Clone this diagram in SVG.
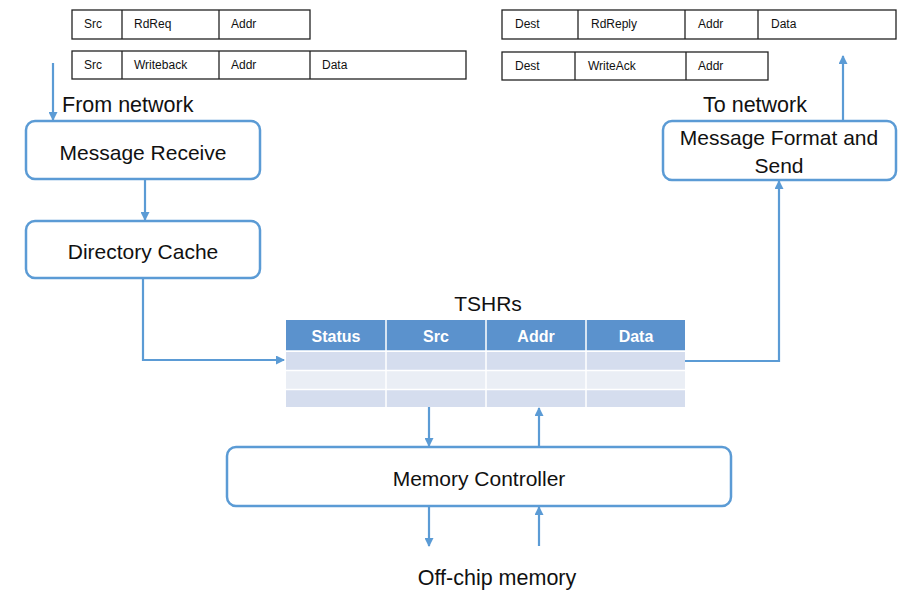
<svg xmlns="http://www.w3.org/2000/svg" width="915" height="607" viewBox="0 0 915 607">
<style>
.pk{fill:#fff;stroke:#222;stroke-width:1.3}
.pl{stroke:#222;stroke-width:1.3}
.pt{font-family:"Liberation Sans",Arial,sans-serif;font-size:12px;fill:#111}
.box{fill:#fff;stroke:#5B9BD5;stroke-width:2.5}
.bt{font-family:"Liberation Sans",Arial,sans-serif;font-size:21px;fill:#111;text-anchor:middle}
.lb{font-family:"Liberation Sans",Arial,sans-serif;font-size:21.5px;fill:#111}
.ht{font-family:"Liberation Sans",Arial,sans-serif;font-size:16px;font-weight:bold;fill:#fff;text-anchor:middle}
.cn{fill:none;stroke:#5B9BD5;stroke-width:2.2}
</style>
<defs>
<marker id="ah" markerWidth="9" markerHeight="9" refX="8" refY="4.5" orient="auto" markerUnits="userSpaceOnUse">
<path d="M0,0 L9,4.5 L0,9 Z" fill="#5B9BD5"/>
</marker>
</defs>
<rect width="915" height="607" fill="#fff"/>

<g id="pkt-rdreq">
<rect class="pk" x="72" y="10" width="238" height="29"/>
<line class="pl" x1="122" y1="10" x2="122" y2="39"/>
<line class="pl" x1="219" y1="10" x2="219" y2="39"/>
<text class="pt" x="84" y="28">Src</text>
<text class="pt" x="134" y="28">RdReq</text>
<text class="pt" x="231" y="28">Addr</text>
</g>
<g id="pkt-writeback">
<rect class="pk" x="72" y="51" width="394" height="28"/>
<line class="pl" x1="122" y1="51" x2="122" y2="79"/>
<line class="pl" x1="219" y1="51" x2="219" y2="79"/>
<line class="pl" x1="310" y1="51" x2="310" y2="79"/>
<text class="pt" x="84" y="69">Src</text>
<text class="pt" x="134" y="69">Writeback</text>
<text class="pt" x="231" y="69">Addr</text>
<text class="pt" x="322" y="69">Data</text>
</g>
<g id="pkt-rdreply">
<rect class="pk" x="502" y="10" width="394" height="29"/>
<line class="pl" x1="578" y1="10" x2="578" y2="39"/>
<line class="pl" x1="685" y1="10" x2="685" y2="39"/>
<line class="pl" x1="758" y1="10" x2="758" y2="39"/>
<text class="pt" x="515" y="28">Dest</text>
<text class="pt" x="591" y="28">RdReply</text>
<text class="pt" x="698" y="28">Addr</text>
<text class="pt" x="771" y="28">Data</text>
</g>
<g id="pkt-writeack">
<rect class="pk" x="502" y="52" width="266" height="28"/>
<line class="pl" x1="575" y1="52" x2="575" y2="80"/>
<line class="pl" x1="686" y1="52" x2="686" y2="80"/>
<text class="pt" x="515" y="70">Dest</text>
<text class="pt" x="588" y="70">WriteAck</text>
<text class="pt" x="698" y="70">Addr</text>
</g>

<text class="lb" x="62" y="112">From network</text>
<text class="lb" x="755" y="112" text-anchor="middle">To network</text>

<g id="message-receive">
<rect class="box" x="26" y="121" width="234" height="58" rx="9"/>
<text class="bt" x="143" y="160">Message Receive</text>
</g>
<g id="directory-cache">
<rect class="box" x="26" y="221" width="234" height="57" rx="9"/>
<text class="bt" x="143" y="259">Directory Cache</text>
</g>
<g id="message-send">
<rect class="box" x="663" y="121" width="233" height="59" rx="9"/>
<text class="bt" x="779" y="145">Message Format and</text>
<text class="bt" x="779" y="173">Send</text>
</g>

<g id="tshrs">
<text x="488" y="311" font-family="Liberation Sans,Arial,sans-serif" font-size="21" fill="#111" text-anchor="middle">TSHRs</text>
<rect x="286" y="320" width="399" height="31" fill="#5B92CD"/>
<rect x="286" y="352" width="399" height="18" fill="#D5DDEE"/>
<rect x="286" y="371" width="399" height="18" fill="#EAEEF5"/>
<rect x="286" y="390" width="399" height="17" fill="#D5DDEE"/>
<g stroke="#fff" stroke-width="1.5">
<line x1="386" y1="320" x2="386" y2="407"/>
<line x1="486" y1="320" x2="486" y2="407"/>
<line x1="586" y1="320" x2="586" y2="407"/>
<line x1="286" y1="351" x2="685" y2="351"/>
<line x1="286" y1="370.5" x2="685" y2="370.5"/>
<line x1="286" y1="389.5" x2="685" y2="389.5"/>
</g>
<text class="ht" x="336" y="342">Status</text>
<text class="ht" x="436" y="342">Src</text>
<text class="ht" x="536" y="342">Addr</text>
<text class="ht" x="636" y="342">Data</text>
</g>

<g id="memory-controller">
<rect class="box" x="227" y="447" width="504" height="59" rx="9"/>
<text class="bt" x="479" y="486" font-size="22">Memory Controller</text>
</g>
<text class="lb" x="497" y="585" text-anchor="middle" font-size="22">Off-chip memory</text>

<g id="connectors">
<path class="cn" d="M53,63 V120" marker-end="url(#ah)"/>
<path class="cn" d="M145,179 V220" marker-end="url(#ah)"/>
<path class="cn" d="M143,278 V360 H284" marker-end="url(#ah)"/>
<path class="cn" d="M685,361 H779 V181" marker-end="url(#ah)"/>
<path class="cn" d="M843,121 V56" marker-end="url(#ah)"/>
<path class="cn" d="M429,407 V446" marker-end="url(#ah)"/>
<path class="cn" d="M539,447 V408" marker-end="url(#ah)"/>
<path class="cn" d="M429,506 V546" marker-end="url(#ah)"/>
<path class="cn" d="M539,546 V507" marker-end="url(#ah)"/>
</g>
</svg>
